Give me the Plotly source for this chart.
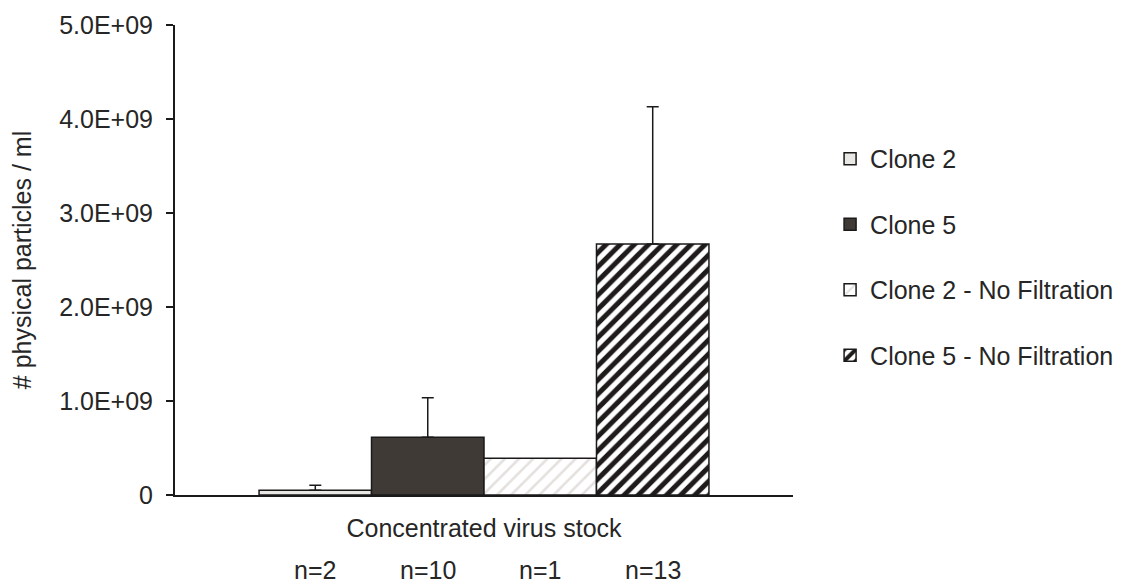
import plotly.graph_objects as go

# Data
category = ["Concentrated virus stock"]
series_names = ["Clone 2", "Clone 5", "Clone 2 - No Filtration", "Clone 5 - No Filtration"]
means = [5.0e7, 6.15e8, 3.9e8, 2.67e9]
errors_up = [5.5e7, 4.2e8, 0.0, 1.46e9]
n_labels = ["n=2", "n=10", "n=1", "n=13"]
y_ticks = [0, 1e9, 2e9, 3e9, 4e9, 5e9]
y_ticktext = ["0", "1.0E+09", "2.0E+09", "3.0E+09", "4.0E+09", "5.0E+09"]

FONT = "Liberation Sans, Arial, sans-serif"
FS = 25
TXT = "#262626"

styles = [
    dict(color="#e9e7e4", pattern=None),
    dict(color="#403a37", pattern=None),
    dict(color="#ffffff", pattern=dict(shape="/", fgcolor="#e3e0dd", bgcolor="#ffffff",
                                       size=10, solidity=0.25, fillmode="replace")),
    dict(color="#ffffff", pattern=dict(shape="/", fgcolor="#1e1b1a", bgcolor="#ffffff",
                                       size=10, solidity=0.5, fillmode="replace")),
]

fig = go.Figure()
for i, name in enumerate(series_names):
    marker = dict(color=styles[i]["color"], line=dict(color="#1a1a1a", width=1.5))
    if styles[i]["pattern"] is not None:
        marker["pattern"] = styles[i]["pattern"]
    fig.add_trace(go.Bar(
        name=name,
        x=category,
        y=[means[i]],
        marker=marker,
        legendgroup=name,
        error_y=dict(type="data", array=[errors_up[i]], arrayminus=[0], symmetric=False,
                     visible=errors_up[i] > 0, color="#1a1a1a", thickness=1.5, width=6),
    ))

# sample-size labels centred under each bar of the group
bargap = 0.272
n_series = len(series_names)
bar_w = (1 - bargap) / n_series
for i, lab in enumerate(n_labels):
    xc = -(1 - bargap) / 2 + bar_w * (i + 0.5)
    fig.add_annotation(x=xc, xref="x", y=-0.16, yref="paper", text=lab, showarrow=False,
                       font=dict(family=FONT, size=FS, color=TXT), yanchor="middle")

fig.update_layout(
    width=1131, height=586,
    margin=dict(l=175, r=338, t=25, b=91),
    paper_bgcolor="white", plot_bgcolor="white",
    barmode="group", bargap=bargap, bargroupgap=0,
    font=dict(family=FONT, size=FS, color=TXT),
    legend=dict(x=1.06, y=0.764, xanchor="left", yanchor="top",
                font=dict(family=FONT, size=FS, color=TXT),
                traceorder="grouped", tracegroupgap=30, bgcolor="rgba(0,0,0,0)"),
    xaxis=dict(type="category", range=[-0.5, 0.5], showline=True, linecolor="#1a1a1a",
               linewidth=2, ticks="", showgrid=False, zeroline=False,
               tickfont=dict(family=FONT, size=FS, color=TXT), ticklabelstandoff=10),
    yaxis=dict(range=[0, 5e9], tickvals=y_ticks, ticktext=y_ticktext, showline=True,
               linecolor="#1a1a1a", linewidth=2, ticks="outside", ticklen=7, tickwidth=2,
               tickcolor="#1a1a1a", showgrid=False, zeroline=False, ticklabelstandoff=8,
               tickfont=dict(family=FONT, size=FS, color=TXT),
               title=dict(text="# physical particles / ml", standoff=20,
                          font=dict(family=FONT, size=FS, color=TXT))),
)

fig.write_html("out.html")
